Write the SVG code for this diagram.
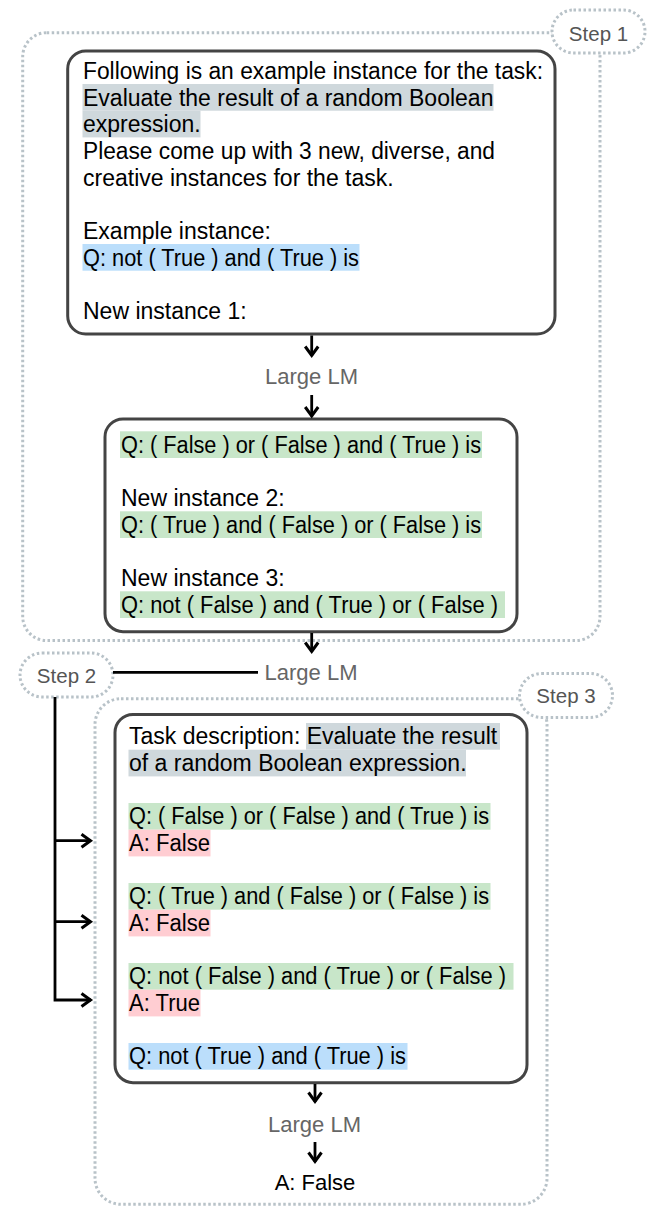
<svg xmlns="http://www.w3.org/2000/svg" width="653" height="1226" viewBox="0 0 653 1226">
<style>
  .t { font-family: "Liberation Sans", Arial, sans-serif; font-size: 23px; fill: #000; }
  .lm { font-family: "Liberation Sans", Arial, sans-serif; font-size: 22px; fill: #666; text-anchor: middle; }
  .step { font-family: "Liberation Sans", Arial, sans-serif; font-size: 20.5px; fill: #555; text-anchor: middle; }
  .dot { fill: none; stroke: #b8c2c8; stroke-width: 3; stroke-dasharray: 2.5 2.5; }
  .pill { fill: #fff; stroke: #b8c2c8; stroke-width: 3; stroke-dasharray: 2.5 2.5; }
  .box { fill: #fff; stroke: #444; stroke-width: 3; }
  .gray { fill: #cfd8dc; }
  .blue { fill: #bbdefb; }
  .green { fill: #c8e6c9; }
  .pink { fill: #ffcdd2; }
  .conn { fill: none; stroke: #000; stroke-width: 2.8; }
</style>
<defs>
  <marker id="arrow" markerUnits="userSpaceOnUse" markerWidth="24" markerHeight="24" viewBox="-12 -12 24 24" refX="0" refY="0" orient="auto">
    <path d="M-9.5,-6.5 L-0.5,0 L-9.5,6.5" fill="none" stroke="#000" stroke-width="3" stroke-linejoin="miter"/>
  </marker>
</defs>

<g id="step1-frame">
  <rect class="dot" x="22.7" y="32.7" width="577.3" height="607.8" rx="24"/>
  <rect class="pill" x="552" y="10" width="93" height="43" rx="21.5"/>
  <text class="step" x="598.5" y="41">Step 1</text>
</g>

<g id="step3-frame">
  <rect class="dot" x="95" y="698.7" width="452" height="505.6" rx="26"/>
  <rect class="pill" x="519.5" y="673.5" width="93" height="44" rx="22"/>
  <text class="step" x="566" y="703">Step 3</text>
</g>

<g id="step2-label">
  <rect class="pill" x="20" y="653" width="93" height="44" rx="22"/>
  <text class="step" x="66.5" y="683">Step 2</text>
</g>

<g id="prompt-box">
  <rect class="box" x="67.7" y="51" width="487.3" height="283" rx="18"/>
  <rect class="gray" x="82.5" y="84" width="411" height="26.7"/>
  <rect class="gray" x="82.5" y="110.7" width="118" height="26.7"/>
  <rect class="blue" x="82.5" y="244" width="277" height="26.7"/>
  <text class="t" x="83" y="79" textLength="460" lengthAdjust="spacingAndGlyphs">Following is an example instance for the task:</text>
  <text class="t" x="83" y="105.7">Evaluate the result of a random Boolean</text>
  <text class="t" x="83" y="132.3">expression.</text>
  <text class="t" x="83" y="159" textLength="412" lengthAdjust="spacingAndGlyphs">Please come up with 3 new, diverse, and</text>
  <text class="t" x="83" y="185.7">creative instances for the task.</text>
  <text class="t" x="83" y="239">Example instance:</text>
  <text class="t" x="83" y="265.7" textLength="276" lengthAdjust="spacingAndGlyphs">Q: not ( True ) and ( True ) is</text>
  <text class="t" x="83" y="319">New instance 1:</text>
</g>

<g id="lm-1">
  <text class="lm" x="311.5" y="384">Large LM</text>
</g>

<g id="generated-box">
  <rect class="box" x="105" y="419" width="412" height="212.7" rx="18"/>
  <rect class="green" x="120" y="431.3" width="362" height="26.7"/>
  <rect class="green" x="120" y="511.3" width="362" height="26.7"/>
  <rect class="green" x="120" y="591.3" width="385" height="26.7"/>
  <text class="t" x="121" y="453" textLength="360" lengthAdjust="spacingAndGlyphs">Q: ( False ) or ( False ) and ( True ) is</text>
  <text class="t" x="121" y="506.3">New instance 2:</text>
  <text class="t" x="121" y="533" textLength="360" lengthAdjust="spacingAndGlyphs">Q: ( True ) and ( False ) or ( False ) is</text>
  <text class="t" x="121" y="586.3">New instance 3:</text>
  <text class="t" x="121" y="613" textLength="377" lengthAdjust="spacingAndGlyphs">Q: not ( False ) and ( True ) or ( False )</text>
</g>

<g id="lm-2">
  <text class="lm" x="311" y="680">Large LM</text>
</g>

<g id="fewshot-box">
  <rect class="box" x="115" y="714.5" width="412" height="368.2" rx="18"/>
  <rect class="gray" x="306" y="723" width="194" height="26.7"/>
  <rect class="gray" x="128.5" y="749.7" width="337.5" height="26.7"/>
  <rect class="green" x="128.5" y="803" width="362" height="26.7"/>
  <rect class="pink" x="128.5" y="829.7" width="82" height="26.7"/>
  <rect class="green" x="128.5" y="883" width="362" height="26.7"/>
  <rect class="pink" x="128.5" y="909.7" width="82" height="26.7"/>
  <rect class="green" x="128.5" y="963" width="385" height="26.7"/>
  <rect class="pink" x="128.5" y="989.7" width="72" height="26.7"/>
  <rect class="blue" x="128.5" y="1043" width="279" height="26.7"/>
  <text class="t" x="129" y="744">Task description: Evaluate the result</text>
  <text class="t" x="129" y="770.7">of a random Boolean expression.</text>
  <text class="t" x="129" y="824" textLength="360" lengthAdjust="spacingAndGlyphs">Q: ( False ) or ( False ) and ( True ) is</text>
  <text class="t" x="129" y="850.7" textLength="81" lengthAdjust="spacingAndGlyphs">A: False</text>
  <text class="t" x="129" y="904" textLength="360" lengthAdjust="spacingAndGlyphs">Q: ( True ) and ( False ) or ( False ) is</text>
  <text class="t" x="129" y="930.7" textLength="81" lengthAdjust="spacingAndGlyphs">A: False</text>
  <text class="t" x="129" y="984" textLength="377" lengthAdjust="spacingAndGlyphs">Q: not ( False ) and ( True ) or ( False )</text>
  <text class="t" x="129" y="1010.7" textLength="71" lengthAdjust="spacingAndGlyphs">A: True</text>
  <text class="t" x="129" y="1064" textLength="277" lengthAdjust="spacingAndGlyphs">Q: not ( True ) and ( True ) is</text>
</g>

<g id="lm-3">
  <text class="lm" x="314.5" y="1131.5">Large LM</text>
</g>

<g id="answer">
  <text class="t" x="315" y="1190" text-anchor="middle" style="font-size:22px">A: False</text>
</g>

<g id="connectors">
  <path class="conn" d="M311.7,335.5 V356" marker-end="url(#arrow)"/>
  <path class="conn" d="M311.7,395 V416.5" marker-end="url(#arrow)"/>
  <path class="conn" d="M311.7,633 V652" marker-end="url(#arrow)"/>
  <path class="conn" d="M113,672.3 H258"/>
  <path class="conn" d="M55,697 V1000 H91" marker-end="url(#arrow)"/>
  <path class="conn" d="M55,840.7 H91" marker-end="url(#arrow)"/>
  <path class="conn" d="M55,921.7 H91" marker-end="url(#arrow)"/>
  <path class="conn" d="M315,1084 V1102" marker-end="url(#arrow)"/>
  <path class="conn" d="M315,1142 V1162" marker-end="url(#arrow)"/>
</g>
</svg>
